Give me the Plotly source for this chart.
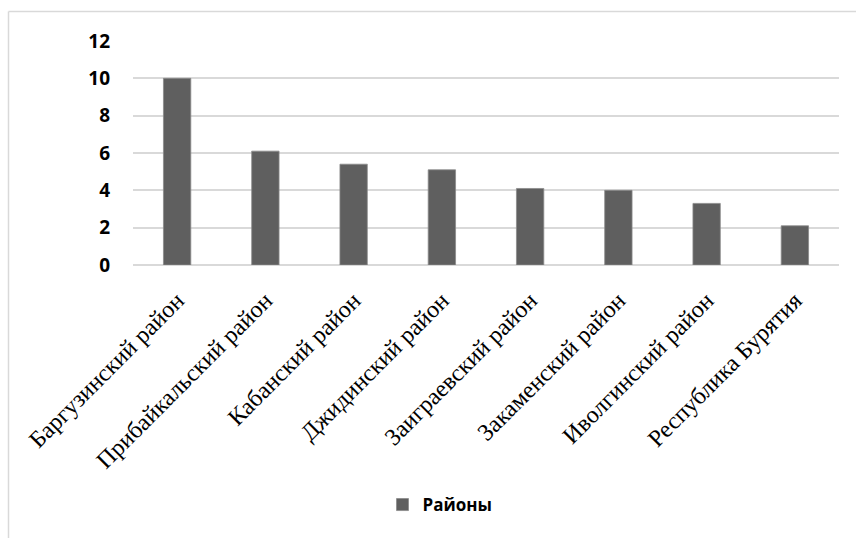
import plotly.graph_objects as go

# Районы Бурятии и значения показателя
categories = [
    "Баргузинский район",
    "Прибайкальский район",
    "Кабанский район",
    "Джидинский район",
    "Заиграевский район",
    "Закаменский район",
    "Иволгинский район",
    "Республика Бурятия",
]
values = [10, 6.1, 5.4, 5.1, 4.1, 4.0, 3.3, 2.1]
series_name = "Районы"
y_ticks = [0, 2, 4, 6, 8, 10, 12]

W, H = 856, 538
L, R, T = 133, 17, 41
plot_h = 224
B = H - T - plot_h
plot_w = W - L - R

def px_x(x):
    return (x - L) / plot_w

def px_y(y):
    return (T + plot_h - y) / plot_h

fig = go.Figure()
fig.add_trace(go.Bar(
    x=categories,
    y=values,
    name=series_name,
    marker=dict(color="#5f5f5f", line=dict(color="#8a8a8a", width=0.8)),
    width=0.31,
    showlegend=True,
))

grid = "#d9d9d9"
fig.update_layout(
    width=W, height=H,
    margin=dict(l=L, r=R, t=T, b=B, autoexpand=False),
    paper_bgcolor="white",
    plot_bgcolor="white",
    showlegend=True,
    legend=dict(
        orientation="h",
        x=px_x(440), xanchor="center",
        y=px_y(505), yanchor="middle",
        font=dict(family="Open Sans", size=17, color="#000000", weight="bold"),
        itemwidth=30,
        bgcolor="rgba(0,0,0,0)",
    ),
    xaxis=dict(
        tickangle=-45,
        tickfont=dict(family="Liberation Serif", size=24, color="#000000"),
        showgrid=False,
        showline=False,
        zeroline=False,
        automargin=False,
        ticks="outside",
        ticklen=11,
        tickcolor="rgba(0,0,0,0)",
    ),
    yaxis=dict(
        range=[0, 12],
        tickvals=y_ticks,
        ticktext=[str(v) for v in y_ticks],
        tickfont=dict(family="Open Sans", size=19, color="#000000", weight="bold"),
        showgrid=True,
        gridcolor=grid,
        gridwidth=1.5,
        zeroline=True,
        zerolinecolor=grid,
        zerolinewidth=1.5,
        showline=False,
        ticks="",
        ticklabelstandoff=22,
        automargin=False,
    ),
    shapes=[
        dict(type="line", xref="paper", yref="paper",
             x0=px_x(8.5), x1=px_x(8.5), y0=px_y(11.5), y1=px_y(H + 5),
             line=dict(color=grid, width=1.5)),
        dict(type="line", xref="paper", yref="paper",
             x0=px_x(8.5), x1=px_x(W + 5), y0=px_y(11.5), y1=px_y(11.5),
             line=dict(color=grid, width=1.5)),
    ],
)

fig.write_html("out.html")
